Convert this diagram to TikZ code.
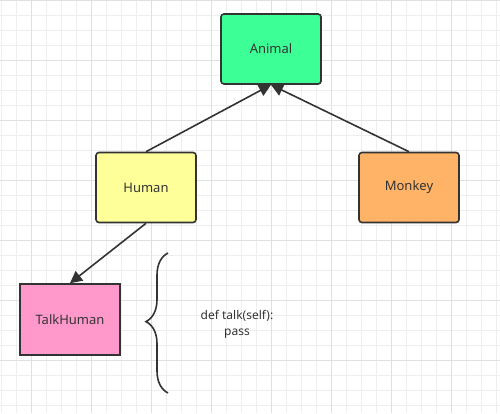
\documentclass[tikz,border=0pt]{standalone}
\usepackage{fontspec}
\setmainfont{Noto Sans}
\usetikzlibrary{arrows.meta,decorations.pathreplacing}
\definecolor{minorgrid}{HTML}{EEEEEE}
\definecolor{majorgrid}{HTML}{E0E0E0}
\definecolor{edge}{HTML}{333333}
\definecolor{txt}{HTML}{333333}
\definecolor{animalc}{HTML}{3CFF96}
\definecolor{humanc}{HTML}{FFFF99}
\definecolor{monkeyc}{HTML}{FFB366}
\definecolor{talkc}{HTML}{FF99CC}
\tikzset{
  cls/.style={draw=edge, line width=1.6pt, minimum width=100pt, minimum height=70pt,
    inner sep=0pt, font=\fontsize{13}{15}\selectfont, text=txt},
  rcls/.style={cls, rounded corners=3pt},
  inh/.style={draw=edge, line width=1.6pt, -{Triangle[length=12pt,width=12pt]}, shorten >=0pt},
}
\begin{document}
\begin{tikzpicture}[x=1pt,y=-1pt]
\useasboundingbox (0,0) rectangle (500,413);
\fill[white] (0,0) rectangle (500,413);
% grid
\foreach \gx in {1,16,...,500} {\draw[minorgrid, line width=1pt] (\gx,0) -- (\gx,413);}
\foreach \gy in {0,15,...,413} {\draw[minorgrid, line width=1pt] (0,\gy) -- (500,\gy);}
\foreach \gx in {31,91,...,500} {\draw[majorgrid, line width=1pt] (\gx,0) -- (\gx,413);}
\foreach \gy in {0,60,...,413} {\draw[majorgrid, line width=1pt] (0,\gy) -- (500,\gy);}
% nodes
\node[rcls, fill=animalc] (animal) at (271,49) {Animal};
\node[rcls, fill=humanc] (human) at (146,187.5) {Human};
\node[rcls, fill=monkeyc] (monkey) at (409,187.5) {Monkey};
\node[cls, fill=talkc, minimum height=71pt] (talk) at (70,319.5) {TalkHuman};
% connectors
\draw[inh] (human.north) -- (animal.south);
\draw[inh] (monkey.north) -- (animal.south);
\draw[inh] (human.south) -- (talk.north);
% brace
\coordinate (bt) at (168,253);
\coordinate (bb) at (168,393);
\draw[edge, line width=1.6pt, decorate, decoration={brace, amplitude=22pt, mirror, aspect=0.49}] (bt) -- (bb);
\node[align=center, font=\fontsize{12}{16}\selectfont, text=txt] (code) at (237,324) {def talk(self):\\pass};
\end{tikzpicture}
\end{document}
